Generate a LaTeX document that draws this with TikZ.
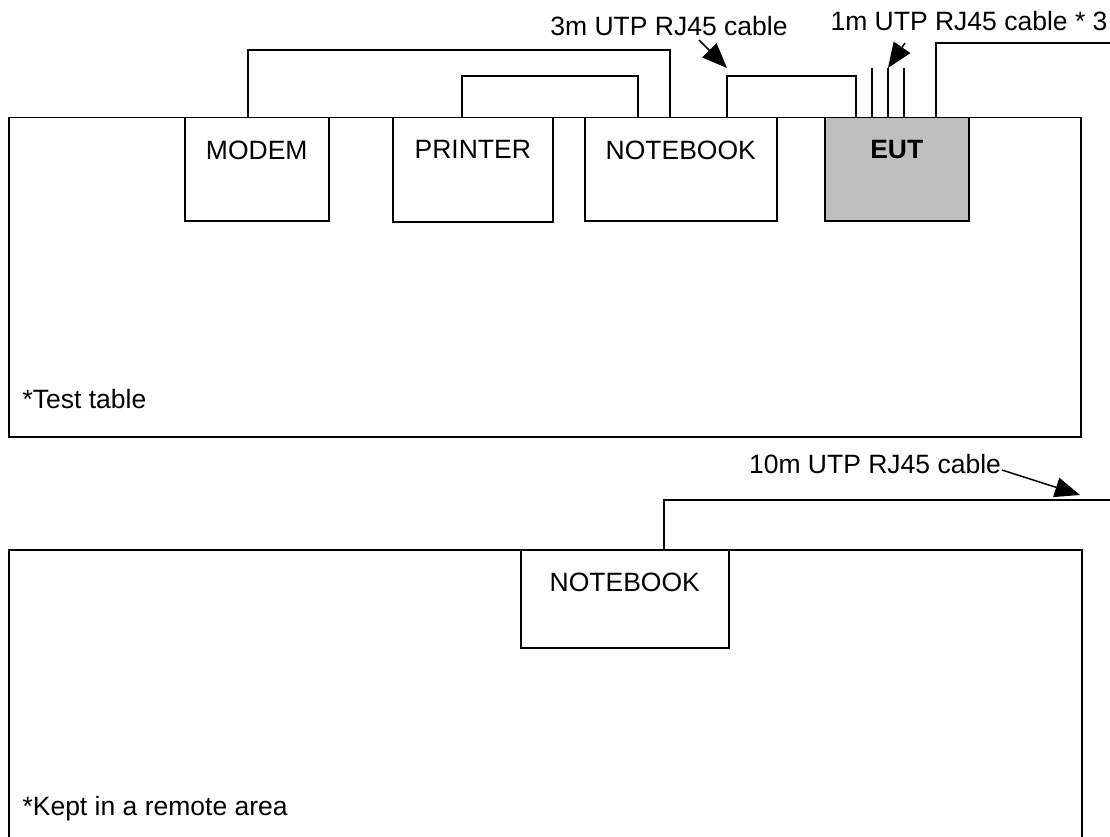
\documentclass[tikz,border=0pt]{standalone}
\usepackage{fontspec}
\setmainfont{Liberation Sans}
\usepackage{tikz}
\usetikzlibrary{arrows.meta}
\tikzstyle{desk}=[rectangle,draw,line width=1.5pt,anchor=north west,inner sep=0pt]
\tikzstyle{box}=[rectangle,draw,line width=1.5pt,fill=white,anchor=north west,inner sep=0pt,minimum height=103pt]
\tikzstyle{boxtxt}=[anchor=north,yshift=-20pt,font=\fontsize{26.5}{31}\selectfont]
\tikzstyle{txt}=[font=\fontsize{26.5}{31}\selectfont]
\tikzstyle{cable}=[line width=1.5pt]
\tikzstyle{ptr}=[-{Triangle[length=25pt,width=20pt]},line width=1.5pt]

\begin{document}
\begin{tikzpicture}[x=1pt,y=-1pt]
  \useasboundingbox (0,0) rectangle (1110,837);
  \clip (0,0) rectangle (1110,837);

  % test table
  \node[desk,minimum width=1072pt,minimum height=319pt] (T) at (8,117) {};
  \node[box,minimum width=144pt,label={[boxtxt]north:MODEM}] (M) at (184,117) {};
  \node[box,minimum width=160pt,minimum height=104pt,label={[boxtxt]north:PRINTER}] (P) at (392,117) {};
  \node[box,minimum width=192pt,label={[boxtxt]north:NOTEBOOK}] (N) at (584,117) {};
  \node[box,minimum width=144pt,fill=black!25,label={[boxtxt,font=\fontsize{26.5}{31}\selectfont\bfseries]north:EUT}] (E) at (824,117) {};
  \node[txt,anchor=base west] (Tt) at (19,408) {*Test table};

  \draw[cable] ([xshift=64pt]M.north west) -- ++(0,-67) -| ([xshift=86pt]N.north west);
  \draw[cable] ([xshift=70pt]P.north west) -- ++(0,-41) -| ([xshift=54pt]N.north west);
  \draw[cable] ([xshift=143pt]N.north west) -- ++(0,-41) -| ([xshift=32pt]E.north west);
  \draw[cable] ([xshift=48pt]E.north west) -- ++(0,-49);
  \draw[cable] ([xshift=64pt]E.north west) -- ++(0,-49);
  \draw[cable] ([xshift=80pt]E.north west) -- ++(0,-49);
  \coordinate (out1) at (1110,43);
  \draw[cable] ([xshift=112pt]E.north west) |- (out1);

  \node[txt] (L3) at (669,26) {3m UTP RJ45 cable};
  \node[txt] (L1) at (969,21) {1m UTP RJ45 cable * 3};
  \draw[ptr] ([xshift=30pt,yshift=-14pt]L3.center) -- ++(28,28);
  \draw[ptr] ([xshift=-64pt,yshift=-22pt]L1.center) -- ++(-17,25);

  % remote area
  \node[desk,minimum width=1073pt,minimum height=310pt] (R) at (8,549) {};
  \node[box,minimum width=208pt,minimum height=98pt,label={[boxtxt]north:NOTEBOOK}] (RN) at (520,549) {};
  \node[txt,anchor=base west] (Rt) at (19,815) {*Kept in a remote area};
  \coordinate (out2) at (1110,500);
  \draw[cable] ([xshift=144pt]RN.north west) |- (out2);

  \node[txt] (L10) at (875,464) {10m UTP RJ45 cable};
  \draw[ptr] ([xshift=127pt,yshift=-6pt]L10.center) -- ++(78,25);

\end{tikzpicture}
\end{document}
